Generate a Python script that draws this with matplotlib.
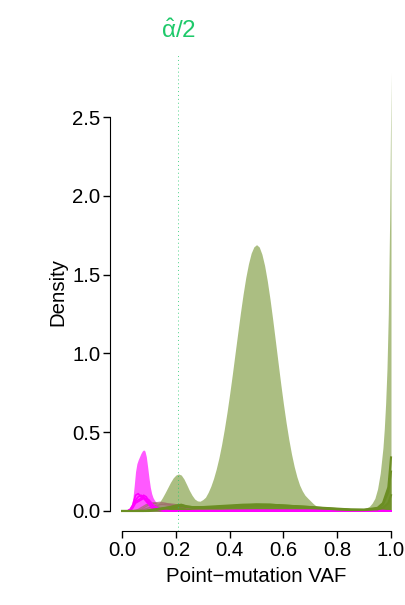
import numpy as np
import matplotlib
matplotlib.use('Agg')
import matplotlib.pyplot as plt
from matplotlib.transforms import blended_transform_factory

plt.rcParams['font.family'] = ['Liberation Sans', 'DejaVu Sans']
plt.rcParams['mathtext.fontset'] = 'custom'
plt.rcParams['mathtext.rm'] = 'Liberation Sans'
plt.rcParams['mathtext.default'] = 'regular'

# main (light olive) density
green_x = [0.00, 0.09, 0.10, 0.11, 0.12, 0.13, 0.14, 0.15, 0.16, 0.17, 0.18, 0.19, 0.20, 0.21,
           0.22, 0.23, 0.24, 0.25, 0.26, 0.27, 0.28, 0.29, 0.30, 0.31, 0.32, 0.33, 0.34, 0.35,
           0.36, 0.37, 0.38, 0.39, 0.40, 0.41, 0.42, 0.43, 0.44, 0.45, 0.46, 0.47, 0.48, 0.49,
           0.50, 0.51, 0.52, 0.53, 0.54, 0.55, 0.56, 0.57, 0.58, 0.59, 0.60, 0.61, 0.62, 0.63,
           0.64, 0.65, 0.66, 0.67, 0.68, 0.69, 0.70, 0.71, 0.72, 0.73, 0.74, 0.75, 0.76, 0.80,
           0.84, 0.88, 0.90, 0.92, 0.93, 0.94, 0.95, 0.96, 0.97, 0.975, 0.98, 0.985, 0.99,
           0.995, 1.00]
green_y = [0.00, 0.004, 0.008, 0.014, 0.024, 0.038, 0.058, 0.085, 0.116, 0.149, 0.182, 0.210,
           0.228, 0.235, 0.228, 0.203, 0.168, 0.131, 0.100, 0.076, 0.064, 0.062, 0.072, 0.087,
           0.118, 0.157, 0.206, 0.266, 0.337, 0.421, 0.518, 0.625, 0.743, 0.868, 0.999, 1.129,
           1.257, 1.376, 1.482, 1.569, 1.636, 1.676, 1.690, 1.675, 1.629, 1.557, 1.460, 1.345,
           1.216, 1.080, 0.942, 0.806, 0.678, 0.560, 0.454, 0.361, 0.282, 0.217, 0.165, 0.128,
           0.100, 0.082, 0.065, 0.048, 0.034, 0.024, 0.017, 0.012, 0.008, 0.006, 0.005, 0.006,
           0.012, 0.030, 0.050, 0.080, 0.140, 0.240, 0.400, 0.520, 0.680, 0.900, 1.250, 1.850,
           2.780]

# magenta density (filled)
pink_x = [0.00, 0.02, 0.03, 0.035, 0.04, 0.045, 0.05, 0.055, 0.06, 0.065, 0.07, 0.075, 0.08,
          0.085, 0.09, 0.095, 0.10, 0.105, 0.11, 0.115, 0.12, 0.13, 0.14, 0.16, 0.20, 1.00]
pink_y = [0.00, 0.005, 0.02, 0.04, 0.08, 0.16, 0.25, 0.30, 0.325, 0.345, 0.365, 0.38, 0.388,
          0.38, 0.345, 0.28, 0.21, 0.15, 0.11, 0.085, 0.07, 0.045, 0.025, 0.006, 0.00, 0.00]

# smaller densities share one grid
small_x = [0.00, 0.02, 0.03, 0.04, 0.05, 0.06, 0.07, 0.08, 0.09, 0.10, 0.11, 0.12, 0.14, 0.16,
           0.18, 0.20, 0.22, 0.24, 0.26, 0.30, 0.35, 0.40, 0.45, 0.50, 0.55, 0.60, 0.65, 0.70,
           0.75, 0.80, 0.85, 0.90, 0.95, 0.97, 0.99, 1.00]

mag_1 = [0, 0, .01, .04, .10, .11, .09, .08, .06, .04, .02, .01, .005, 0, 0, 0, 0, 0, 0, 0,
         0, 0, 0, 0, 0, 0, 0, 0, 0, 0, 0, 0, 0, 0, 0, 0]
mag_2 = [0, 0, .005, .03, .07, .09, .10, .09, .07, .05, .03, .015, .005, 0, 0, 0, 0, 0, 0, 0,
         0, 0, 0, 0, 0, 0, 0, 0, 0, 0, 0, 0, 0, 0, 0, 0]
mag_3 = [0, 0, .01, .03, .06, .07, .08, .10, .09, .06, .03, .015, .005, 0, 0, 0, 0, 0, 0, 0,
         0, 0, 0, 0, 0, 0, 0, 0, 0, 0, 0, 0, 0, 0, 0, 0]
mag_4 = [0, 0, 0, .02, .05, .06, .07, .08, .08, .07, .05, .03, .01, .005, 0, 0, 0, 0, 0, 0,
         0, .003, .004, .005, .005, .005, .005, .005, .005, .004, .004, .004, .004, .003, 0, 0]

brown_1 = [0, 0, 0, 0, .005, .01, .02, .03, .04, .045, .05, .05, .045, .04, .035, .03, .025,
           .02, .015, .01, .008, .006, .005, .005, .004, .004, .003, .003, .002, .002, .002,
           .002, .002, .002, .002, 0]
brown_2 = [0, 0, 0, 0, 0, .005, .01, .02, .03, .04, .045, .05, .055, .05, .04, .035, .04,
           .03, .02, .012, .01, .008, .008, .008, .007, .006, .005, .004, .003, .003, .003,
           .003, .003, .003, .003, 0]
brown_3 = [0, 0, 0, 0, 0, 0, .005, .01, .015, .02, .03, .035, .04, .045, .045, .04, .03, .02,
           .015, .01, .008, .006, .005, .004, .004, .003, .003, .002, .002, .002, .002, .002,
           .002, .002, .002, 0]

olive_1 = [0, 0, 0, 0, 0, 0, 0, 0, .002, .005, .008, .01, .015, .02, .025, .03, .035, .028,
           .025, .025, .03, .035, .04, .042, .04, .035, .03, .025, .02, .015, .01, .008, .01,
           .02, .05, .10]
olive_2 = [0, 0, 0, 0, 0, 0, 0, 0, 0, .003, .005, .008, .012, .018, .025, .035, .04, .03,
           .025, .022, .025, .03, .035, .04, .04, .035, .03, .025, .018, .012, .008, .008, .02,
           .05, .15, .34]
olive_3 = [0, 0, 0, 0, 0, 0, 0, 0, 0, 0, .003, .005, .01, .015, .02, .025, .03, .025, .02,
           .018, .02, .025, .03, .035, .035, .03, .025, .02, .015, .01, .006, .006, .015, .04,
           .12, .25]

alpha_half = 0.208
olive = '#6b8e23'
fs = 14.7

fig = plt.figure(figsize=(4.05, 6.05), dpi=100)
ax = fig.add_axes([110 / 405, 74 / 605, 293 / 405, 477 / 605])

ax.fill_between(green_x, green_y, color=olive, alpha=0.57, lw=0)
ax.fill_between(pink_x, pink_y, color='#ff00ff', alpha=0.65, lw=0)

for yy in [brown_1, brown_2, brown_3]:
    ax.fill_between(small_x, yy, color='#a0707a', alpha=0.25, lw=0)
    ax.plot(small_x, yy, color='#a06a6a', alpha=0.7, lw=1)
for yy in [mag_1, mag_2, mag_3, mag_4]:
    ax.plot(small_x, yy, color='#ff00ff', lw=1.2)
for yy in [olive_1, olive_2, olive_3]:
    ax.fill_between(small_x, yy, color=olive, alpha=0.6, lw=0)
    ax.plot(small_x, yy, color=olive, lw=1.5)

ax.axvline(alpha_half, color='#1ec96a', lw=0.7, ls=(0, (1, 3)), alpha=0.8)
trans = blended_transform_factory(ax.transData, fig.transFigure)
ax.text(alpha_half, 1 - 31 / 605, r'$\hat{\alpha}/2$', transform=trans, color='#1ec96a',
        fontsize=17.5, ha='center', va='center')

ax.set_xlim(-0.045, (403 - 122) / 269)
ax.set_ylim(-0.127, 2.9)
for s in ['top', 'right']:
    ax.spines[s].set_visible(False)
ax.spines['left'].set_bounds(0, 2.5)
ax.spines['bottom'].set_bounds(0, 1)
ax.set_xticks(np.arange(0, 1.01, 0.2))
ax.set_xticklabels(['0.0', '0.2', '0.4', '0.6', '0.8', '1.0'])
ax.set_yticks(np.arange(0, 2.51, 0.5))
ax.set_yticklabels(['0.0', '0.5', '1.0', '1.5', '2.0', '2.5'])
ax.tick_params(labelsize=fs, length=5, width=1, pad=2)
ax.set_xlabel('Point\u2212mutation VAF', fontsize=fs, labelpad=5)
ax.set_ylabel('Density', fontsize=fs, labelpad=3)

fig.savefig('out.png', dpi=100)
